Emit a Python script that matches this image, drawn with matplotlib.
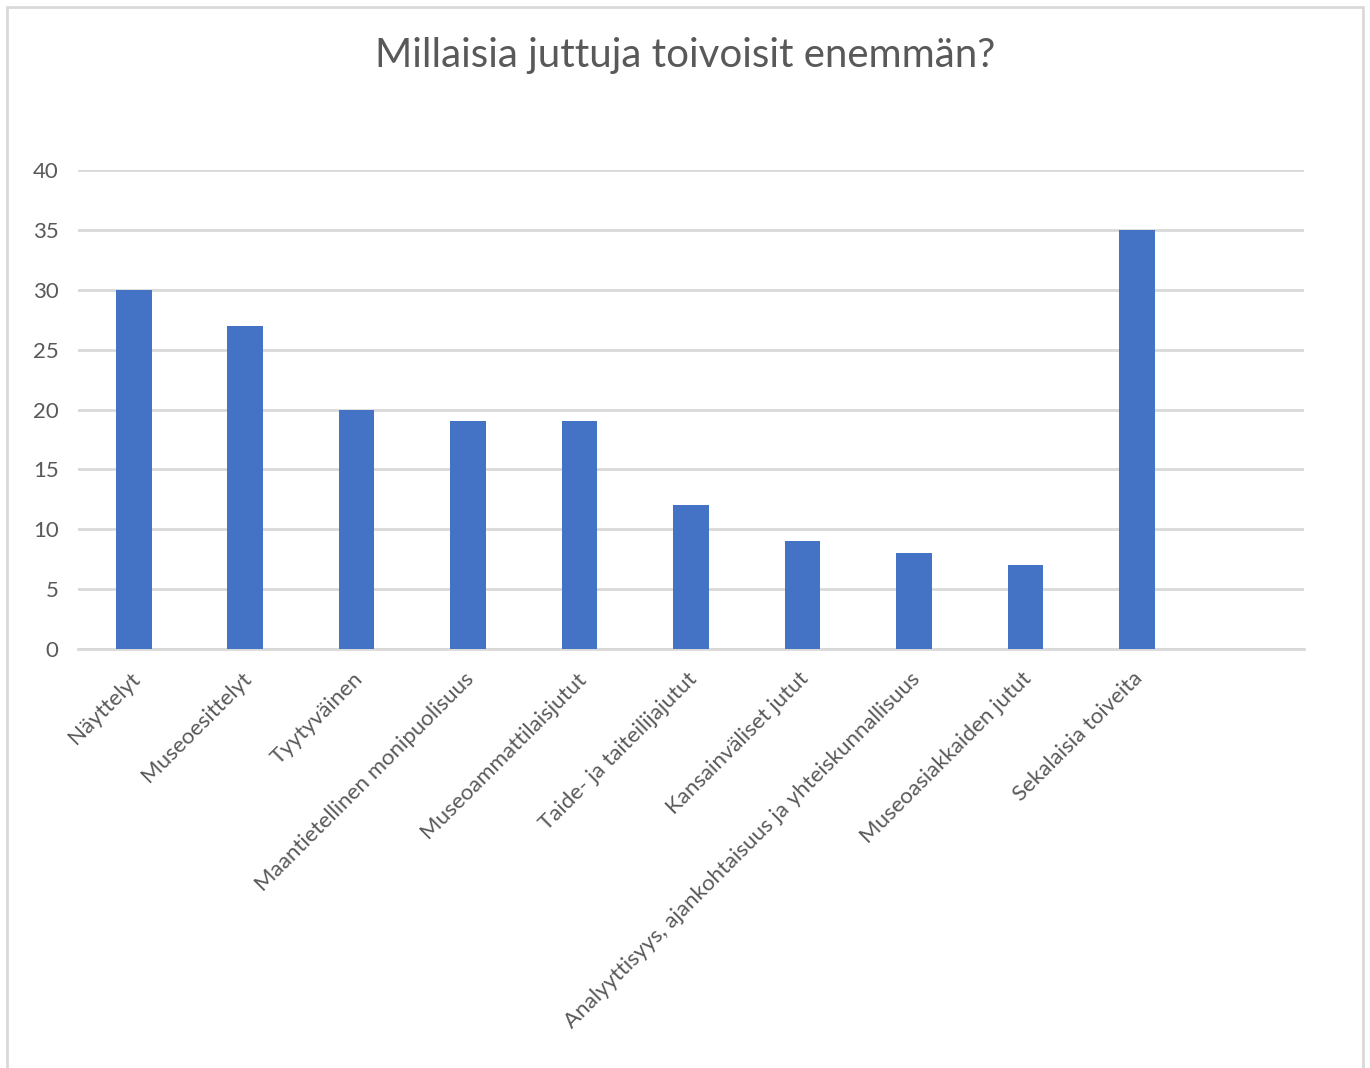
import matplotlib
matplotlib.use("Agg")
import matplotlib.pyplot as plt
from matplotlib.patches import Rectangle
from matplotlib.transforms import ScaledTranslation

categories = [
    "Näyttelyt",
    "Museoesittelyt",
    "Tyytyväinen",
    "Maantietellinen monipuolisuus",
    "Museoammattilaisjutut",
    "Taide- ja taiteilijajutut",
    "Kansainväliset jutut",
    "Analyyttisyys, ajankohtaisuus ja yhteiskunnallisuus",
    "Museoasiakkaiden jutut",
    "Sekalaisia toiveita",
]
counts = [30, 27, 20, 19, 19, 12, 9, 8, 7, 35]
yticks = [0, 5, 10, 15, 20, 25, 30, 35, 40]

BAR = "#4472C4"
TEXT = "#595959"
GRID = "#D9D9D9"
plt.rcParams["font.family"] = ["Lato", "DejaVu Sans"]

fig = plt.figure(figsize=(13.7, 10.68), dpi=100)
ax = fig.add_axes([78 / 1370, 1 - 649 / 1068, (1304 - 78) / 1370, (649 - 170) / 1068])

x = list(range(len(categories)))
ax.bar(x, counts, width=0.32, color=BAR, zorder=3)
ax.set_xlim(-0.5, len(categories) + 0.5)
ax.set_ylim(0, 40)
ax.set_yticks(yticks)
ax.set_yticklabels([str(v) for v in yticks], fontsize=16, color=TEXT)
ax.yaxis.grid(True, color=GRID, linewidth=2, zorder=0)
ax.tick_params(axis="y", length=0, pad=14)
ax.tick_params(axis="x", length=0, pad=14)
ax.set_xticks(x)
ax.set_xticklabels(categories, rotation=45, ha="right", va="top",
                   rotation_mode="anchor", fontsize=16, color=TEXT)
shift = ScaledTranslation(-4 / 100, 0, fig.dpi_scale_trans)
for lab in ax.get_xticklabels():
    lab.set_transform(lab.get_transform() + shift)
for s in ["top", "right", "left"]:
    ax.spines[s].set_visible(False)
ax.spines["bottom"].set_color(GRID)
ax.spines["bottom"].set_linewidth(2)

fig.text(0.5, 1 - 56 / 1068, "Millaisia juttuja toivoisit enemmän?",
         ha="center", va="center", fontsize=29, color=TEXT)

fig.patches.append(Rectangle((7 / 1370, -0.01), (1363 - 7) / 1370, 1.01 - 7 / 1068,
                             transform=fig.transFigure, fill=False,
                             edgecolor=GRID, linewidth=2))

fig.savefig("out.png", dpi=100)
